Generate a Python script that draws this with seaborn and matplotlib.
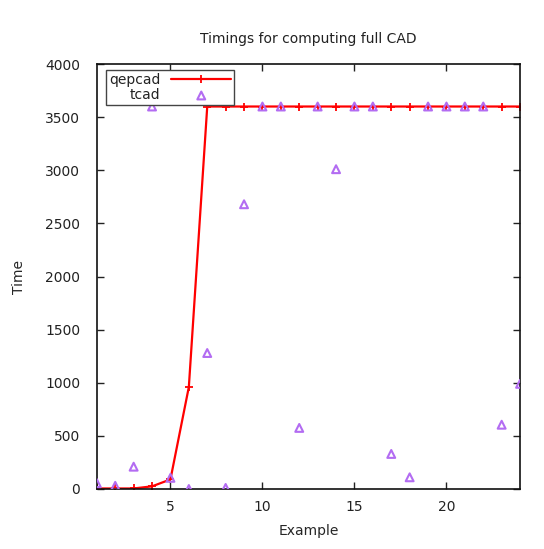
import numpy as np
import pandas as pd
import matplotlib
matplotlib.use('Agg')
import matplotlib.pyplot as plt
import seaborn as sns

examples = list(range(1, 25))
qepcad = [5, 5, 5, 25, 90, 960, 3600, 3600, 3600, 3600, 3600, 3600,
          3600, 3600, 3600, 3600, 3600, 3600, 3600, 3600, 3600, 3600, 3600, 3600]
tcad = [55, 30, 210, 3600, 105, 0, 1280, 10, 2680, 3600, 3600, 575,
        3600, 3010, 3600, 3600, 330, 110, 3600, 3600, 3600, 3600, 605, 990]

df = pd.DataFrame({'Example': examples, 'qepcad': qepcad, 'tcad': tcad})

sns.set_style('ticks')
plt.rcParams['font.family'] = ['DejaVu Sans']
plt.rcParams['text.color'] = '#222222'

fig = plt.figure(figsize=(5.44, 5.49), dpi=100)
ax = fig.add_axes([0.178, 0.1093, 0.778, 0.7741])

sns.lineplot(data=df, x='Example', y='qepcad', ax=ax, color='#ff0000',
             marker='+', markersize=6, markeredgewidth=1.3,
             markeredgecolor='#ff0000', linewidth=1.6, label='qepcad')
sns.scatterplot(data=df, x='Example', y='tcad', ax=ax, marker='^', s=32,
                facecolors='none', edgecolors='#b36cf2', color='#b36cf2',
                linewidths=1.5, label='tcad', zorder=3)

ax.set_xlim(1, 24)
ax.set_ylim(0, 4000)
ax.set_xticks([5, 10, 15, 20])
ax.set_yticks(range(0, 4001, 500))
ax.tick_params(direction='in', length=5, width=1, top=True, right=True,
               labelsize=10, colors='#222222', pad=8)
ax.tick_params(axis='y', pad=12)
for s in ax.spines.values():
    s.set_linewidth(1.2)
    s.set_color('#111111')

ax.set_title('Timings for computing full CAD', fontsize=10, pad=15)
ax.set_xlabel('Example', fontsize=10, labelpad=7)
ax.set_ylabel('Time', fontsize=10, labelpad=14)

leg = ax.legend(loc='upper left', bbox_to_anchor=(0.022, 0.986),
                markerfirst=False, fancybox=False, framealpha=1,
                edgecolor='#444444', fontsize=10, borderpad=0.2,
                labelspacing=0.1, handlelength=4.3, borderaxespad=0)
leg.get_frame().set_linewidth(1.0)

fig.savefig('out.png', dpi=100)
